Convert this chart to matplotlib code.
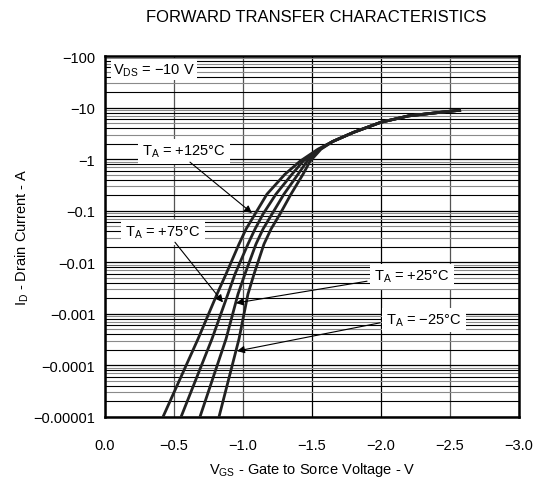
import matplotlib
matplotlib.use('Agg')
import matplotlib.pyplot as plt
from matplotlib.ticker import FixedLocator, NullFormatter

plt.rcParams['font.family'] = ['Liberation Sans', 'DejaVu Sans']
plt.rcParams['mathtext.fontset'] = 'custom'
plt.rcParams['mathtext.rm'] = 'Liberation Sans'

# drain current levels (magnitude, A)
id_levels = [1e-5, 3.25e-4, 2.42e-3, 5.9e-3, 0.0225, 0.044, 0.086, 0.21, 0.51, 0.91, 1.56]

# gate voltage magnitude (V) at those levels, per temperature
vgs_125 = [0.420, 0.674, 0.812, 0.877, 0.971, 1.022, 1.087, 1.174, 1.304, 1.413, 1.543]
vgs_75 = [0.551, 0.775, 0.891, 0.942, 1.036, 1.087, 1.145, 1.239, 1.355, 1.435, 1.551]
vgs_25 = [0.688, 0.877, 0.964, 1.014, 1.094, 1.145, 1.210, 1.297, 1.399, 1.464, 1.558]
vgs_m25 = [0.826, 0.971, 1.036, 1.080, 1.152, 1.203, 1.268, 1.348, 1.435, 1.486, 1.565]

# shared upper part where the curves merge
vgs_common = [1.65, 1.8, 2.0, 2.2, 2.5, 2.58]
id_common = [2.2, 3.3, 5.2, 6.9, 8.5, 8.9]

x_ticks = [0.0, 0.5, 1.0, 1.5, 2.0, 2.5, 3.0]
x_labels = ['0.0', '\u22120.5', '\u22121.0', '\u22121.5', '\u22122.0', '\u22122.5', '\u22123.0']
y_ticks = [1e-5, 1e-4, 1e-3, 1e-2, 1e-1, 1, 10, 100]
y_labels = ['\u22120.00001', '\u22120.0001', '\u22120.001', '\u22120.01', '\u22120.1', '\u22121', '\u221210', '\u2212100']

fig = plt.figure(figsize=(5.4, 4.89), dpi=100)
ax = fig.add_axes([0.1944, 0.1452, 0.7667, 0.7382])

ax.set_yscale('log')
ax.set_xlim(0, 3)
ax.set_ylim(1e-5, 100)

# grid
ax.xaxis.set_major_locator(FixedLocator(x_ticks))
ax.set_xticklabels(x_labels)
ax.yaxis.set_major_locator(FixedLocator(y_ticks))
ax.set_yticklabels(y_labels)
minor = []
for d in y_ticks[:-1]:
    for s in range(2, 10):
        minor.append(d * s)
ax.yaxis.set_minor_locator(FixedLocator(minor))
ax.yaxis.set_minor_formatter(NullFormatter())
ax.grid(True, which='major', axis='both', color='black', lw=0.9)
ax.grid(True, which='minor', axis='y', color='black', lw=0.8)
for i, t in enumerate(ax.yaxis.get_minor_ticks()):
    if i % 2 == 1:
        t.gridline.set_color('#8a8a8a')
for i, t in enumerate(ax.xaxis.get_major_ticks()):
    if i in (1, 2, 5):
        t.gridline.set_color('#555555')
ax.set_axisbelow(True)

ax.tick_params(axis='both', which='both', length=0, labelsize=10.5)
ax.tick_params(axis='x', pad=15)
ax.tick_params(axis='y', pad=7)
for sp in ax.spines.values():
    sp.set_linewidth(1.8)
    sp.set_color('black')

# curves
for v in [vgs_125, vgs_75, vgs_25, vgs_m25]:
    ax.plot(v + vgs_common, id_levels + id_common, color='#222222', lw=2.0,
            solid_capstyle='butt', solid_joinstyle='round', zorder=3)

box = dict(facecolor='white', edgecolor='none', pad=1.5)
ax.text(0.058, 55, '$\\mathregular{V_{DS}}$ = \u221210 V',
        ha='left', va='center', fontsize=10.5, bbox=box, zorder=4)

tbox = dict(facecolor='white', edgecolor='none', pad=3)
ax.text(0.572, 1.43, '$\\mathregular{T_{A}}$ = +125\u00b0C',
        ha='center', va='center', fontsize=10.5, bbox=tbox, zorder=4)
ax.text(0.42, 0.0385, '$\\mathregular{T_{A}}$ = +75\u00b0C',
        ha='center', va='center', fontsize=10.5, bbox=tbox, zorder=4)
ax.text(2.225, 5.4e-3, '$\\mathregular{T_{A}}$ = +25\u00b0C',
        ha='center', va='center', fontsize=10.5, bbox=tbox, zorder=4)
ax.text(2.312, 7.6e-4, '$\\mathregular{T_{A}}$ = \u221225\u00b0C',
        ha='center', va='center', fontsize=10.5, bbox=tbox, zorder=4)

arrow = dict(arrowstyle='-|>', color='black', lw=0.8, mutation_scale=11, shrinkA=0, shrinkB=0)
ax.annotate('', xy=(1.065, 0.090), xytext=(0.616, 0.875), arrowprops=arrow, zorder=5)
ax.annotate('', xy=(0.855, 1.67e-3), xytext=(0.507, 0.0245), arrowprops=arrow, zorder=5)
ax.annotate('', xy=(0.949, 1.62e-3), xytext=(1.899, 4.3e-3), arrowprops=arrow, zorder=5)
ax.annotate('', xy=(0.957, 1.9e-4), xytext=(1.993, 6.7e-4), arrowprops=arrow, zorder=5)

fig.text(0.585, 0.965, 'FORWARD TRANSFER CHARACTERISTICS', ha='center', va='center', fontsize=12)
ax.set_xlabel('$\\mathregular{V_{GS}}$ - Gate to Sorce Voltage - V', fontsize=10.5, labelpad=6)
ax.set_ylabel('$\\mathregular{I_{D}}$ - Drain Current - A', fontsize=10.5, labelpad=2)

fig.savefig('out.png', dpi=100)
